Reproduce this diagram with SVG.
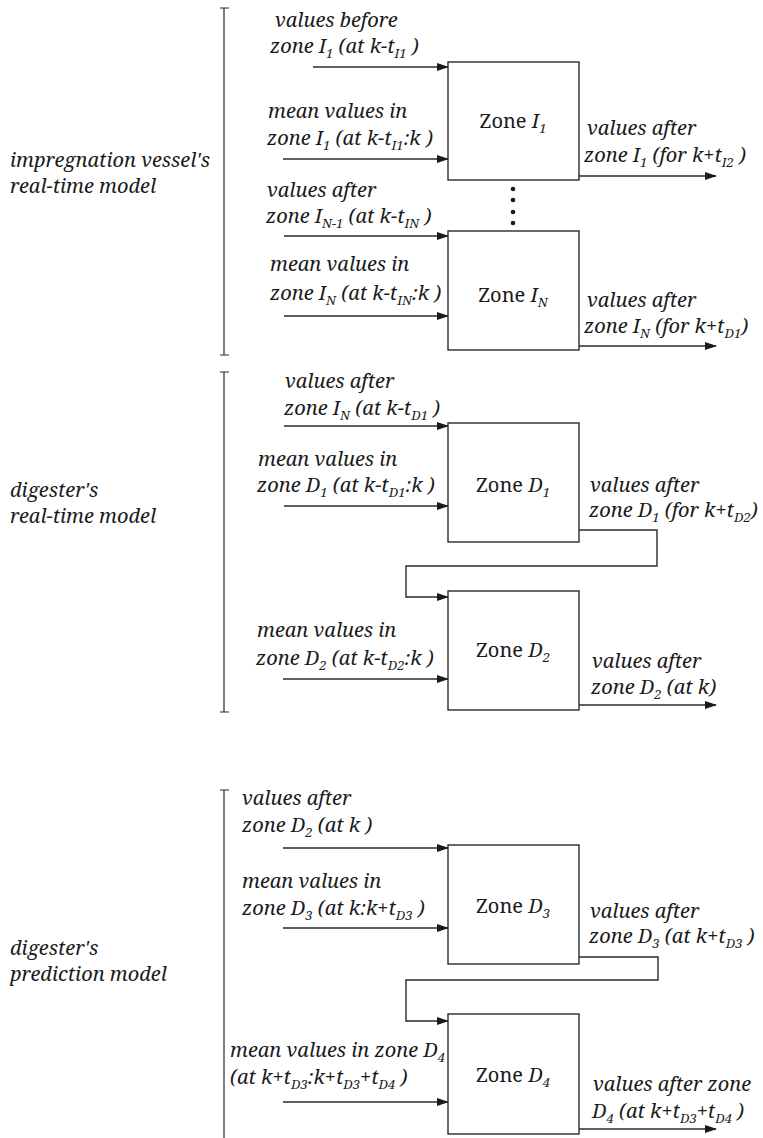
<svg xmlns="http://www.w3.org/2000/svg" width="763" height="1138" viewBox="0 0 763 1138">
  <style>
    text { font-family: 'Noto Serif', 'DejaVu Serif', 'Liberation Serif', serif; fill: #1a1a1a; }
    .t { font-style: italic; font-size: 20px; }
    .z { font-size: 20px; }
    .zi { font-style: italic; }
    .s { font-size: 13px; font-style: italic; }
    .box { fill: #ffffff; stroke: #2a2a2a; stroke-width: 1.4; }
    .arr { fill: none; stroke: #2a2a2a; stroke-width: 1.4; marker-end: url(#ah); }
    .br { fill: none; stroke: #2a2a2a; stroke-width: 1.2; }
  </style>
  <defs>
    <marker id="ah" markerWidth="12" markerHeight="8" refX="11" refY="4" orient="auto" markerUnits="userSpaceOnUse">
      <path d="M0,0 L12,4 L0,8 Z" fill="#1a1a1a"/>
    </marker>
  </defs>
  <rect width="763" height="1138" fill="#ffffff"/>

  <!-- brackets grouping the three models -->
  <g id="brackets">
    <path class="br" d="M220,8 H229 M224,8 V355 M220,355 H229"/>
    <path class="br" d="M220,372 H229 M224,372 V712 M220,712 H229"/>
    <path class="br" d="M220,790 H229 M224,790 V1138"/>
  </g>

  <!-- model names -->
  <g id="model-labels">
    <text class="t" x="10" y="167">impregnation vessel's</text>
    <text class="t" x="10" y="193">real-time model</text>
    <text class="t" x="10" y="497">digester's</text>
    <text class="t" x="10" y="523">real-time model</text>
    <text class="t" x="10" y="955">digester's</text>
    <text class="t" x="10" y="981">prediction model</text>
  </g>

  <!-- connectors -->
  <g id="connectors">
    <path class="arr" d="M313,67 H448"/>
    <path class="arr" d="M283,159 H448"/>
    <path class="arr" d="M579,176 H716"/>
    <path class="arr" d="M284,236 H448"/>
    <path class="arr" d="M284,316 H448"/>
    <path class="arr" d="M579,346 H716"/>
    <path class="arr" d="M284,426 H448"/>
    <path class="arr" d="M284,506 H448"/>
    <path class="arr" d="M579,530 H657 V566 H406 V597 H448"/>
    <path class="arr" d="M283,679 H448"/>
    <path class="arr" d="M579,705 H716"/>
    <path class="arr" d="M283,848 H448"/>
    <path class="arr" d="M283,928 H448"/>
    <path class="arr" d="M579,957 H658 V980 H406 V1021 H448"/>
    <path class="arr" d="M283,1102 H448"/>
    <path class="arr" d="M579,1129 H716"/>
  </g>

  <!-- impregnation vessel zones -->
  <g id="zone-I1">
    <rect class="box" x="448" y="62" width="131" height="118"/>
    <text class="z" x="513" y="128" text-anchor="middle">Zone <tspan class="zi">I</tspan><tspan class="s" dy="5">1</tspan></text>
  </g>
  <g id="dots">
    <circle cx="513" cy="189" r="2.3" fill="#1a1a1a"/>
    <circle cx="513" cy="200" r="2.3" fill="#1a1a1a"/>
    <circle cx="513" cy="212" r="2.3" fill="#1a1a1a"/>
    <circle cx="513" cy="223" r="2.3" fill="#1a1a1a"/>
  </g>
  <g id="zone-IN">
    <rect class="box" x="448" y="231" width="131" height="119"/>
    <text class="z" x="513" y="302" text-anchor="middle">Zone <tspan class="zi">I</tspan><tspan class="s" dy="5">N</tspan></text>
  </g>

  <!-- digester real-time zones -->
  <g id="zone-D1">
    <rect class="box" x="448" y="423" width="131" height="119"/>
    <text class="z" x="513" y="492" text-anchor="middle">Zone <tspan class="zi">D</tspan><tspan class="s" dy="5">1</tspan></text>
  </g>
  <g id="zone-D2">
    <rect class="box" x="448" y="591" width="131" height="119"/>
    <text class="z" x="513" y="657" text-anchor="middle">Zone <tspan class="zi">D</tspan><tspan class="s" dy="5">2</tspan></text>
  </g>

  <!-- digester prediction zones -->
  <g id="zone-D3">
    <rect class="box" x="448" y="845" width="131" height="119"/>
    <text class="z" x="513" y="913" text-anchor="middle">Zone <tspan class="zi">D</tspan><tspan class="s" dy="5">3</tspan></text>
  </g>
  <g id="zone-D4">
    <rect class="box" x="448" y="1014" width="131" height="120"/>
    <text class="z" x="513" y="1082" text-anchor="middle">Zone <tspan class="zi">D</tspan><tspan class="s" dy="5">4</tspan></text>
  </g>

  <!-- signal labels -->
  <g id="signal-labels">
    <text class="t" x="275" y="27">values before</text>
    <text class="t" x="270" y="53">zone I<tspan class="s" dy="5">1</tspan><tspan dy="-5"> (at k-t</tspan><tspan class="s" dy="5">I1</tspan><tspan dy="-5"> )</tspan></text>
    <text class="t" x="268" y="118">mean values in</text>
    <text class="t" x="267" y="145">zone I<tspan class="s" dy="5">1</tspan><tspan dy="-5"> (at k-t</tspan><tspan class="s" dy="5">I1</tspan><tspan dy="-5">:k )</tspan></text>
    <text class="t" x="587" y="135">values after</text>
    <text class="t" x="584" y="162">zone I<tspan class="s" dy="5">1</tspan><tspan dy="-5"> (for k+t</tspan><tspan class="s" dy="5">I2</tspan><tspan dy="-5"> )</tspan></text>

    <text class="t" x="267" y="197">values after</text>
    <text class="t" x="266" y="223">zone I<tspan class="s" dy="5">N-1</tspan><tspan dy="-5"> (at k-t</tspan><tspan class="s" dy="5">IN</tspan><tspan dy="-5"> )</tspan></text>
    <text class="t" x="270" y="271">mean values in</text>
    <text class="t" x="270" y="300">zone I<tspan class="s" dy="5">N</tspan><tspan dy="-5"> (at k-t</tspan><tspan class="s" dy="5">IN</tspan><tspan dy="-5">:k )</tspan></text>
    <text class="t" x="587" y="307">values after</text>
    <text class="t" x="584" y="333">zone I<tspan class="s" dy="5">N</tspan><tspan dy="-5"> (for k+t</tspan><tspan class="s" dy="5">D1</tspan><tspan dy="-5">)</tspan></text>

    <text class="t" x="285" y="388">values after</text>
    <text class="t" x="284" y="415">zone I<tspan class="s" dy="5">N</tspan><tspan dy="-5"> (at k-t</tspan><tspan class="s" dy="5">D1</tspan><tspan dy="-5"> )</tspan></text>
    <text class="t" x="258" y="466">mean values in</text>
    <text class="t" x="257" y="492">zone D<tspan class="s" dy="5">1</tspan><tspan dy="-5"> (at k-t</tspan><tspan class="s" dy="5">D1</tspan><tspan dy="-5">:k )</tspan></text>
    <text class="t" x="590" y="492">values after</text>
    <text class="t" x="589" y="517">zone D<tspan class="s" dy="5">1</tspan><tspan dy="-5"> (for k+t</tspan><tspan class="s" dy="5">D2</tspan><tspan dy="-5">)</tspan></text>

    <text class="t" x="257" y="637">mean values in</text>
    <text class="t" x="256" y="665">zone D<tspan class="s" dy="5">2</tspan><tspan dy="-5"> (at k-t</tspan><tspan class="s" dy="5">D2</tspan><tspan dy="-5">:k )</tspan></text>
    <text class="t" x="592" y="668">values after</text>
    <text class="t" x="591" y="694">zone D<tspan class="s" dy="5">2</tspan><tspan dy="-5"> (at k)</tspan></text>

    <text class="t" x="242" y="805">values after</text>
    <text class="t" x="242" y="832">zone D<tspan class="s" dy="5">2</tspan><tspan dy="-5"> (at k )</tspan></text>
    <text class="t" x="242" y="888">mean values in</text>
    <text class="t" x="242" y="915">zone D<tspan class="s" dy="5">3</tspan><tspan dy="-5"> (at k:k+t</tspan><tspan class="s" dy="5">D3</tspan><tspan dy="-5"> )</tspan></text>
    <text class="t" x="590" y="918">values after</text>
    <text class="t" x="589" y="943">zone D<tspan class="s" dy="5">3</tspan><tspan dy="-5"> (at k+t</tspan><tspan class="s" dy="5">D3</tspan><tspan dy="-5"> )</tspan></text>

    <text class="t" x="230" y="1057">mean values in zone D<tspan class="s" dy="5">4</tspan></text>
    <text class="t" x="230" y="1084">(at k+t<tspan class="s" dy="5">D3</tspan><tspan dy="-5">:k+t</tspan><tspan class="s" dy="5">D3</tspan><tspan dy="-5">+t</tspan><tspan class="s" dy="5">D4</tspan><tspan dy="-5"> )</tspan></text>
    <text class="t" x="593" y="1091">values after zone</text>
    <text class="t" x="592" y="1118">D<tspan class="s" dy="5">4</tspan><tspan dy="-5"> (at k+t</tspan><tspan class="s" dy="5">D3</tspan><tspan dy="-5">+t</tspan><tspan class="s" dy="5">D4</tspan><tspan dy="-5"> )</tspan></text>
  </g>
</svg>
